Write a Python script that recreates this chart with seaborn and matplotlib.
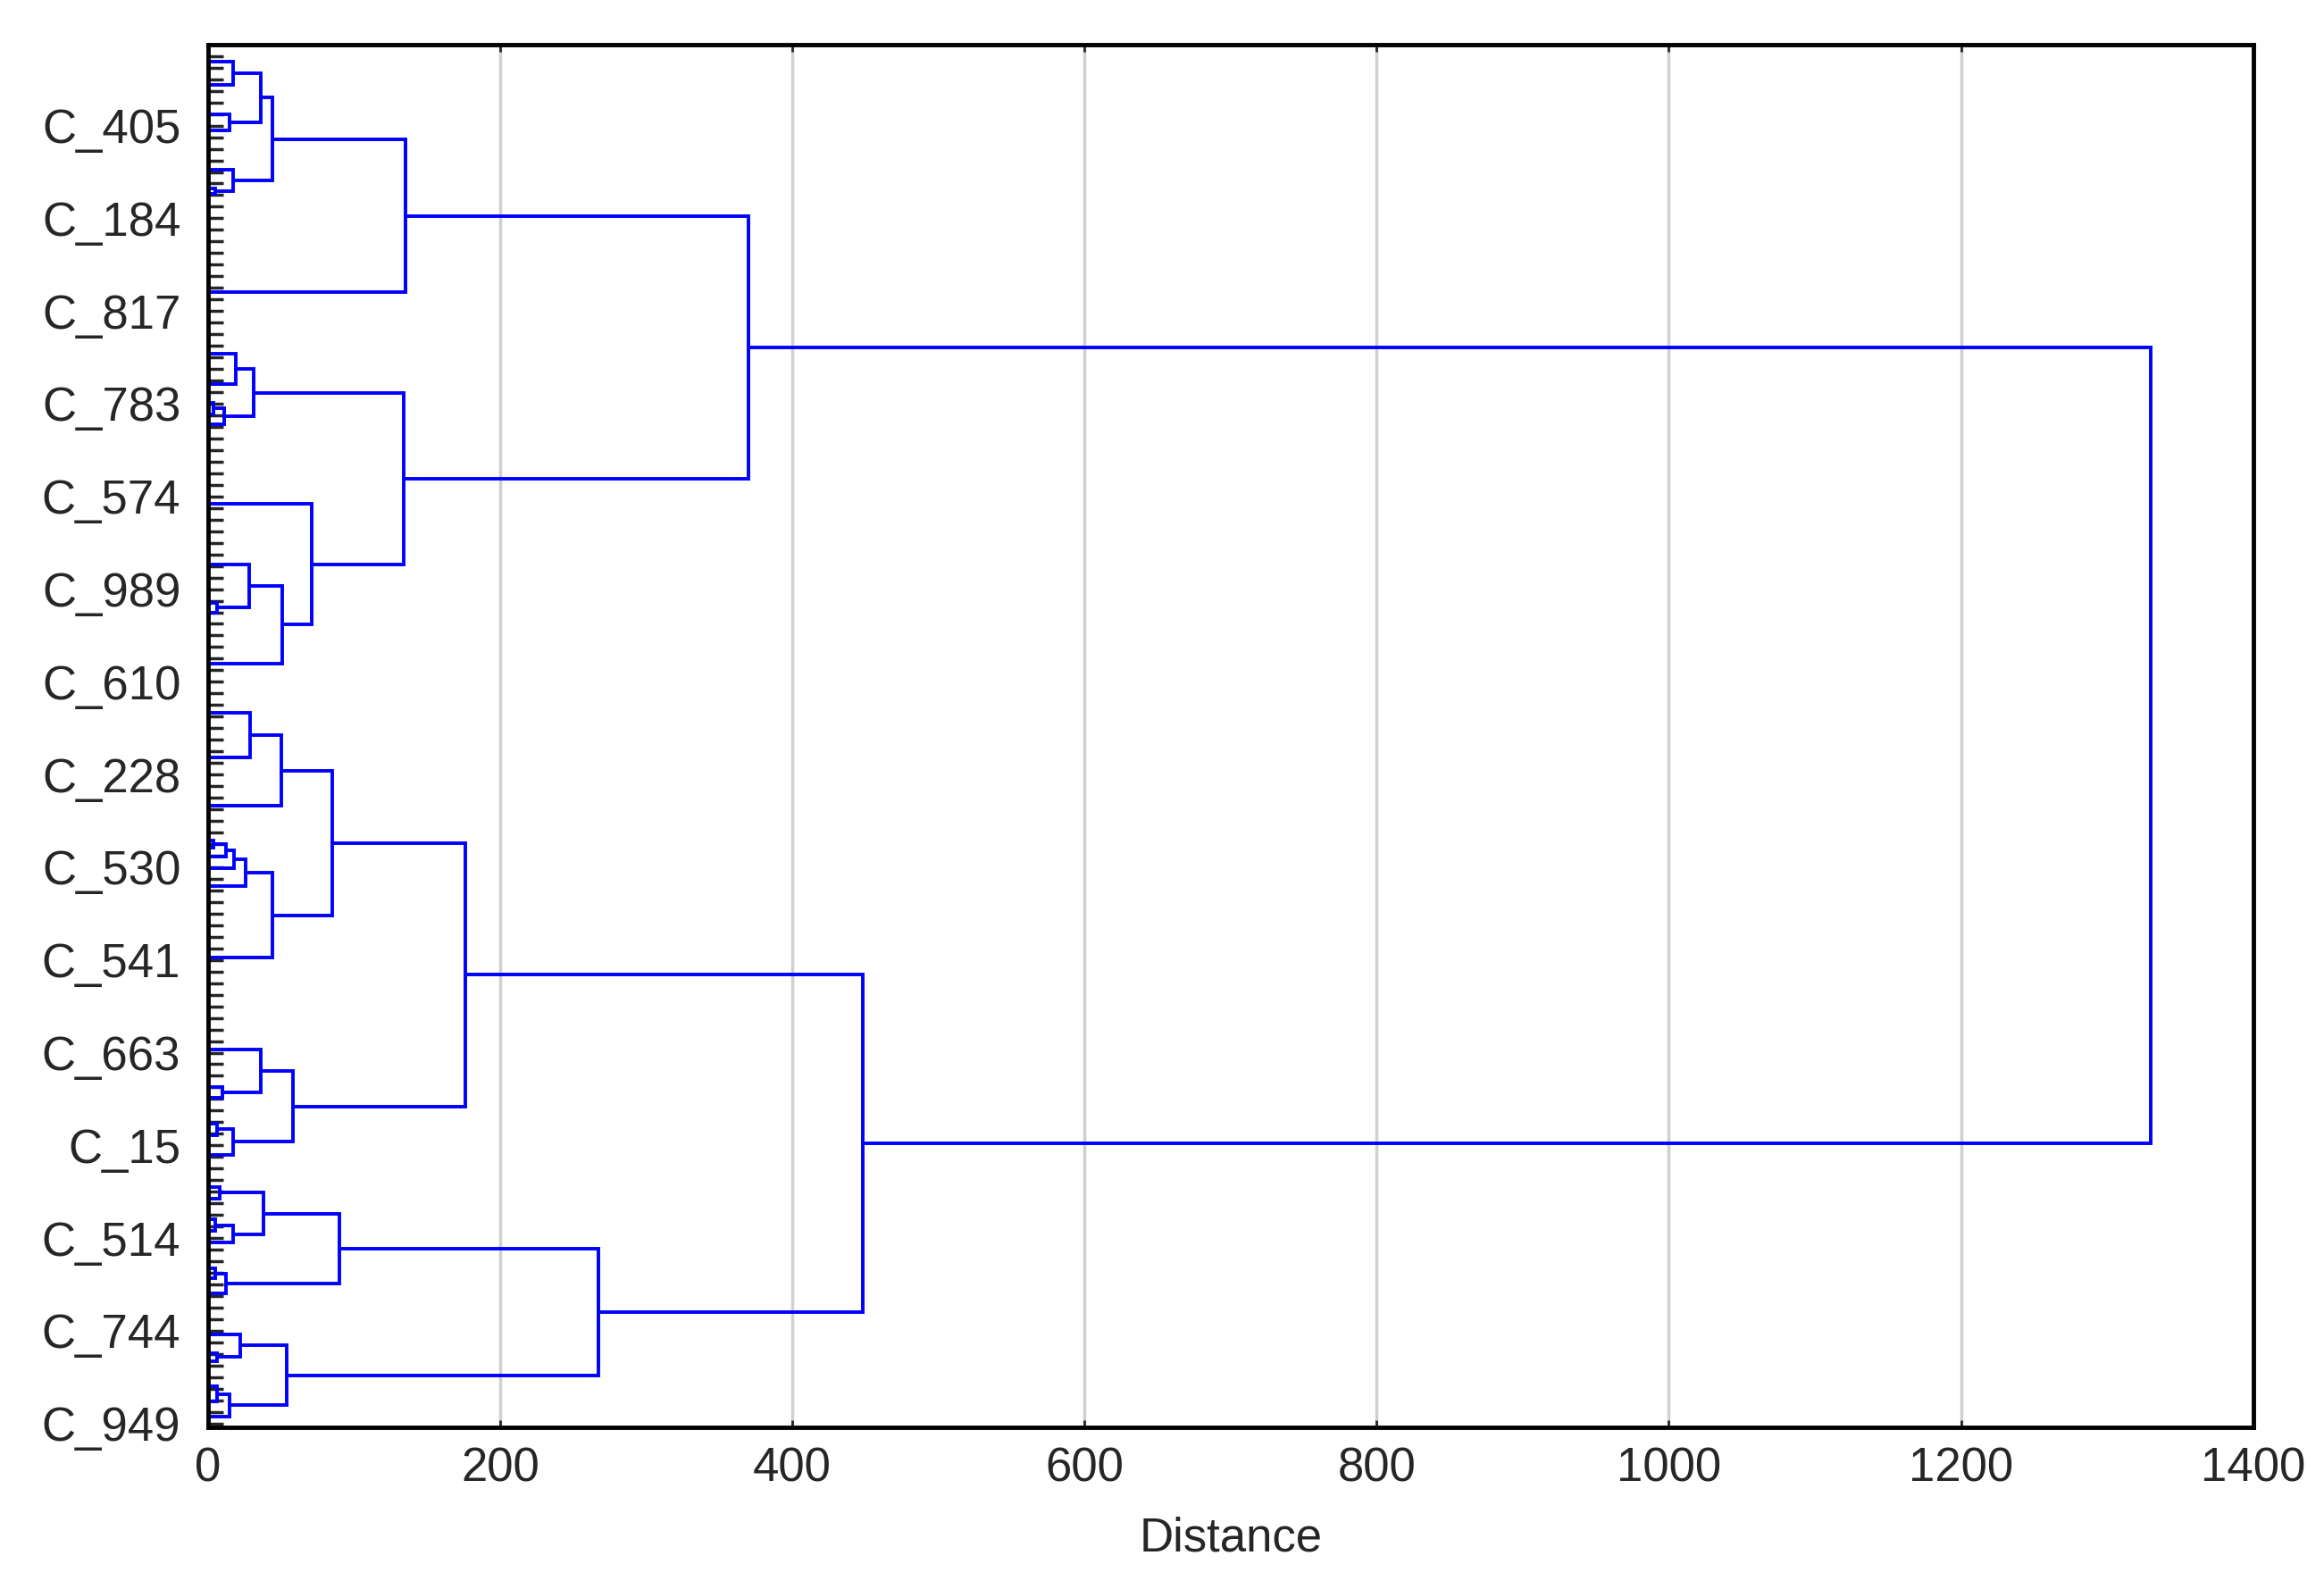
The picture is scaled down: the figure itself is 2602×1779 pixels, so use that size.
import matplotlib
matplotlib.use("Agg")
import matplotlib.pyplot as plt
import seaborn as sns

sns.set_style("white")
plt.rcParams['font.family'] = ['Liberation Sans', 'DejaVu Sans']

# Tree nodes: (distance, left, right); floats are leaf positions (leaf index)
A1a = (44, (36, (17, 117.5, 115.5), (15, 113.0, 111.6)), (17, 108.2, (5, 106.6, 106.1)))
A1 = (135, A1a, 97.6)
A2a = (31, (19, 92.3, 89.7), (11, (4, 88.1, 87.1), 86.2))
A2b = (71, 79.4, (51, (28, 74.1, (6, 70.8, 70.0)), 65.6))
A2 = (134, A2a, A2b)
A = (370, A1, A2)
B1a = (85, (50, (29, 61.3, 57.5), 53.3),
       (44, (26, (18, (12, (4, 50.3, 49.7), 48.9), 47.9), 46.4), 40.2))
B1b = (58, (36, 32.3, (10, 29.0, 28.1)), (17, (6, 25.9, 24.9), 23.2))
B1 = (176, B1a, B1b)
B2a = (90, (38, (8, 20.4, 19.4), (17, (5, 17.6, 16.6), 15.6)), (12, (5, 13.4, 12.5), 11.2))
B2b = (54, (22, 7.7, (6, 6.1, 5.4)), (15, (6, 3.2, 1.9), 0.6))
B2 = (267, B2a, B2b)
B = (448, B1, B2)
root = (1330, A, B)

labels = ["C_949", "C_744", "C_514", "C_15", "C_663", "C_541", "C_530", "C_228",
          "C_610", "C_989", "C_574", "C_783", "C_817", "C_184", "C_405"]
label_pos = [0, 8, 16, 24, 32, 40, 48, 56, 64, 72, 80, 88, 96, 104, 112]
xticks = [0, 200, 400, 600, 800, 1000, 1200, 1400]

fig = plt.figure(figsize=(26.02, 17.79), dpi=100)
ax = fig.add_axes([0.0895, 0.102, 0.880, 0.870])
color = "#0000ff"

def draw(node):
    if not isinstance(node, tuple):
        return 0.0, node
    h, l, r = node
    hl, yl = draw(l)
    hr, yr = draw(r)
    ax.plot([hl, h, h, hr], [yl, yl, yr, yr], color=color, lw=2.8, solid_joinstyle='miter')
    return h, (yl + yr) / 2

draw(root)

ax.set_xlim(0, 1400)
ax.set_ylim(-0.3, 119)
ax.set_xticks(xticks)
ax.set_xticklabels([str(v) for v in xticks], fontsize=38)
ax.set_yticks(label_pos)
ax.set_yticklabels(labels, fontsize=38)
ax.set_yticks(range(0, 119), minor=True)
ax.tick_params(axis='y', which='both', left=True, direction='in', length=12, width=2.5, pad=22)
ax.tick_params(axis='x', bottom=True, top=True, direction='in', length=6, width=2, pad=16)
ax.grid(axis='x', color='#d0d0d0', lw=2.5)
ax.set_axisbelow(True)
for s in ax.spines.values():
    s.set_color('black')
    s.set_linewidth(3.5)
ax.set_xlabel("Distance", fontsize=38, labelpad=20)
fig.savefig("out.png", dpi=100)
